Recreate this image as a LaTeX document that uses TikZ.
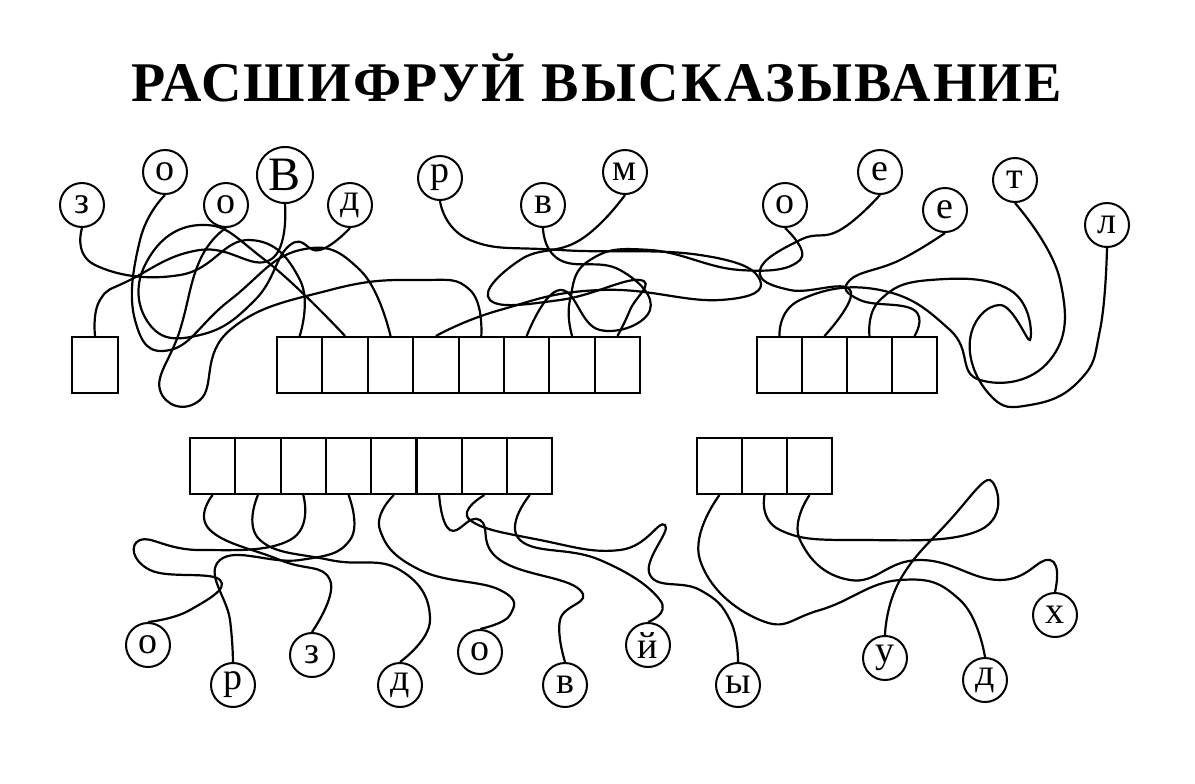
\documentclass[tikz,border=0pt]{standalone}
\usepackage{fontspec}
\setmainfont{Liberation Serif}
\tikzset{
  letter/.style={draw, circle, line width=1pt, minimum size=22pt, inner sep=0pt, font=\fontsize{19}{19}\selectfont},
  bigletter/.style={letter, minimum size=28pt, font=\fontsize{24}{24}\selectfont},
  cell/.style={draw, line width=1pt, minimum width=22.7pt, minimum height=28pt, inner sep=0pt},
  wire/.style={line width=1.1pt, smooth, tension=0.8},
}
\begin{document}
\begin{tikzpicture}[x=0.5pt, y=-0.5pt]
  \useasboundingbox (0,0) rectangle (1195,783);
  \node (title) at (597,78) {\fontsize{28}{28}\selectfont\bfseries\addfontfeature{LetterSpace=4} РАСШИФРУЙ ВЫСКАЗЫВАНИЕ};

  % top letters
  \node[letter] (z1) at (82,205) {з};
  \node[letter] (o1) at (165,172) {о};
  \node[letter] (o2) at (226,205) {о};
  \node[bigletter] (V) at (285,175) {В};
  \node[letter] (d1) at (350,205) {д};
  \node[letter] (r1) at (440,178) {р};
  \node[letter] (v1) at (543,205) {в};
  \node[letter] (m1) at (625,172) {м};
  \node[letter] (o3) at (785,205) {о};
  \node[letter] (e1) at (880,172) {е};
  \node[letter] (e2) at (945,210) {е};
  \node[letter] (tt) at (1015,180) {т};
  \node[letter] (l1) at (1107,225) {л};

  % bottom letters
  \node[letter] (o4) at (148,645) {о};
  \node[letter] (r2) at (233,685) {р};
  \node[letter] (z2) at (312,655) {з};
  \node[letter] (d2) at (400,685) {д};
  \node[letter] (o5) at (480,652) {о};
  \node[letter] (v2) at (565,685) {в};
  \node[letter] (j1) at (648,645) {й};
  \node[letter] (y1) at (738,685) {ы};
  \node[letter] (u1) at (885,658) {у};
  \node[letter] (d3) at (985,680) {д};
  \node[letter] (h1) at (1055,615) {х};

  % boxes
  \node[cell] (b0) at (95,365) {};
  \foreach \i in {1,...,8}
    \node[cell] (a\i) at ({277+45.4*(\i-0.5)},365) {};
  \foreach \i in {1,...,4}
    \node[cell] (t\i) at ({757+45*(\i-0.5)},365) {};
  \foreach \i in {1,...,8}
    \node[cell] (c\i) at ({190+45.3*(\i-0.5)},466) {};
  \foreach \i in {1,...,3}
    \node[cell] (w\i) at ({697+45*(\i-0.5)},466) {};

  % top wires
  \draw[wire] plot coordinates {(V.south) (270,260) (200,250) (130,280) (100,300) (b0.north)};
  \draw[wire] plot coordinates {(z1.south) (95,265) (180,275) (250,240) (300,280) (a1.north)};
  \draw[wire] plot coordinates {(d1.south) (320,250) (290,245) (255,300) (200,335) (150,325) (145,265) (200,225) (265,260) (a2.north)};
  \draw[wire] plot coordinates {(o1.south) (140,240) (135,320) (170,350) (230,300) (300,250) (360,270) (a3.north)};
  \draw[wire] plot coordinates {(r1.south) (470,240) (560,250) (700,255) (760,280) (720,300) (600,290) (500,310) (a4.north)};
  \draw[wire] plot coordinates {(o2.south) (200,260) (180,330) (160,390) (200,400) (230,330) (330,290) (420,280) (470,290) (a5.north)};
  \draw[wire] plot coordinates {(v1.south) (560,260) (620,270) (650,310) (600,330) (560,290) (a6.north)};
  \draw[wire] plot coordinates {(o3.south) (800,260) (740,270) (650,250) (590,260) (570,300) (a7.north)};
  \draw[wire] plot coordinates {(m1.south) (580,240) (520,260) (490,300) (560,300) (640,280) (630,310) (a8.north)};
  \draw[wire] plot coordinates {(tt.south) (1060,280) (1050,360) (980,380) (950,330) (880,290) (800,300) (t1.north)};
  \draw[wire] plot coordinates {(e1.south) (840,230) (800,240) (760,270) (790,290) (850,290) (t2.north)};
  \draw[wire] plot coordinates {(l1.south) (1100,330) (1080,380) (1030,405) (990,395) (970,340) (1000,305) (1030,340) (1010,290) (930,280) (880,300) (t3.north)};
  \draw[wire] plot coordinates {(e2.south) (900,260) (850,280) (860,300) (914,310) (t4.north)};

  % bottom wires
  \draw[wire] plot coordinates {(c1.south) (210,530) (280,560) (330,580) (z2.north)};
  \draw[wire] plot coordinates {(c2.south) (260,540) (330,560) (400,570) (430,620) (d2.north)};
  \draw[wire] plot coordinates {(c3.south) (290,540) (200,550) (140,540) (150,570) (220,580) (190,610) (o4.north)};
  \draw[wire] plot coordinates {(c4.south) (350,540) (300,560) (220,560) (230,620) (r2.north)};
  \draw[wire] plot coordinates {(c5.south) (380,530) (420,570) (500,590) (510,615) (o5.north)};
  \draw[wire] plot coordinates {(c6.south) (450,530) (480,520) (500,560) (580,590) (560,620) (v2.north)};
  \draw[wire] plot coordinates {(c7.south) (470,520) (540,540) (620,550) (665,525) (650,575) (700,590) (730,620) (y1.north)};
  \draw[wire] plot coordinates {(c8.south) (520,540) (600,560) (660,600) (j1.north)};
  \draw[wire] plot coordinates {(w1.south) (700,560) (760,620) (820,610) (900,580) (960,600) (d3.north)};
  \draw[wire] plot coordinates {(w2.south) (780,530) (860,540) (980,530) (990,480) (950,520) (900,580) (u1.north)};
  \draw[wire] plot coordinates {(w3.south) (800,540) (850,580) (920,560) (1000,580) (1050,560) (h1.north)};
\end{tikzpicture}
\end{document}
